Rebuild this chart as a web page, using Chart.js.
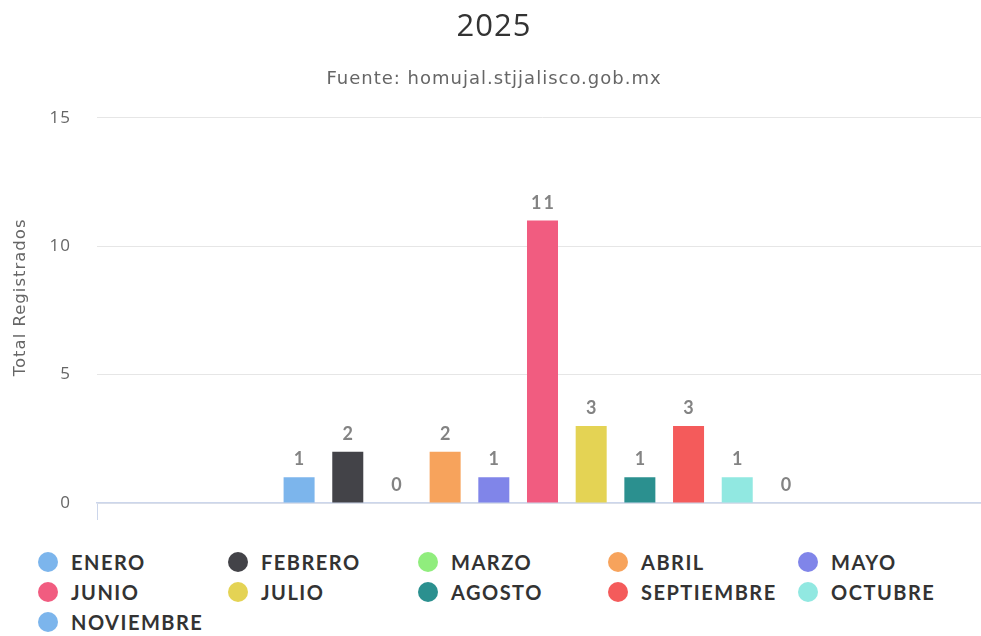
<!DOCTYPE html>
<html>
<head>
<meta charset="utf-8">
<script src="https://cdn.jsdelivr.net/npm/chart.js@4.4.1/dist/chart.umd.min.js"></script>
<style>
  html, body { margin: 0; padding: 0; background: #fff; overflow: hidden; }
  #wrap { position: relative; width: 981px; height: 636px; overflow: hidden; }
  #box { position: absolute; left: 0; top: 0; width: 988px; height: 545px; }
  #leyenda {
    position: absolute; left: 38px; top: 550px;
    display: grid; grid-template-columns: repeat(5, 190px); row-gap: 6px;
    font-family: Lato, sans-serif; font-weight: bold; font-size: 20px;
    letter-spacing: 1.5px; color: #333;
  }
  .item { display: flex; align-items: center; height: 24px; }
  .punto { width: 20px; height: 20px; border-radius: 50%; margin-right: 13px; flex: none; }
</style>
</head>
<body>
<div id="wrap">
  <div id="box"><canvas id="grafica"></canvas></div>
  <div id="leyenda"></div>
</div>
<script>
// datos
const meses = ['ENERO', 'FEBRERO', 'MARZO', 'ABRIL', 'MAYO', 'JUNIO', 'JULIO', 'AGOSTO', 'SEPTIEMBRE', 'OCTUBRE', 'NOVIEMBRE'];
const registros = [1, 2, 0, 2, 1, 11, 3, 1, 3, 1, 0];
const colores = ['#7cb5ec', '#434348', '#90ed7d', '#f7a35c', '#8085e9', '#f15c80', '#e4d354', '#2b908f', '#f45b5b', '#91e8e1', '#7cb5ec'];
const ticksY = [0, 5, 10, 15];
const tituloY = 'Total Registrados';

const datasets = meses.map((mes, i) => ({
    label: mes,
    data: [registros[i]],
    backgroundColor: colores[i],
    borderWidth: 0
}));

// espaciado de letras para los textos del canvas
const espaciado = {
    id: 'espaciado',
    beforeDraw(chart) {
        if ('letterSpacing' in chart.ctx) chart.ctx.letterSpacing = '1px';
    },
    afterDraw(chart) {
        if ('letterSpacing' in chart.ctx) chart.ctx.letterSpacing = '0px';
    }
};

// titulo del eje y, un poco arriba del centro como en el original
const tituloEje = {
    id: 'tituloEje',
    afterDraw(chart) {
        const ctx = chart.ctx;
        const area = chart.chartArea;
        ctx.save();
        ctx.translate(21, (area.top + area.bottom) / 2 - 13);
        ctx.rotate(-Math.PI / 2);
        ctx.font = '16.5px "DejaVu Sans", sans-serif';
        ctx.fillStyle = '#666';
        ctx.textAlign = 'center';
        ctx.textBaseline = 'middle';
        if ('letterSpacing' in ctx) ctx.letterSpacing = '1px';
        ctx.fillText(tituloY, 0, 0);
        ctx.restore();
    }
};

// etiquetas con el valor encima de cada barra
const etiquetas = {
    id: 'etiquetas',
    afterDatasetsDraw(chart) {
        const ctx = chart.ctx;
        ctx.save();
        ctx.font = 'bold 18px Lato, sans-serif';
        ctx.fillStyle = '#838383';
        ctx.textAlign = 'center';
        ctx.textBaseline = 'alphabetic';
        if ('letterSpacing' in ctx) ctx.letterSpacing = '2px';
        chart.data.datasets.forEach((ds, i) => {
            const bar = chart.getDatasetMeta(i).data[0];
            ctx.fillText(String(ds.data[0]), bar.x + 1, bar.y - 12);
        });
        ctx.restore();
    }
};

const ctx = document.getElementById('grafica');
new Chart(ctx.getContext('2d'), {
    type: 'bar',
    data: { labels: ['2025'], datasets: datasets },
    plugins: [espaciado, etiquetas, tituloEje],
    options: {
        responsive: true,
        maintainAspectRatio: false,
        animation: false,
        categoryPercentage: 0.601,
        barPercentage: 0.637,
        layout: { padding: { left: 0, right: 0, top: 0, bottom: 25 } },
        scales: {
            x: {
                ticks: { display: false },
                grid: { drawOnChartArea: false, drawTicks: true, tickLength: 17, color: '#ccd6eb', offset: true },
                border: { color: '#ccd6eb', width: 1.5 }
            },
            y: {
                min: 0,
                max: 15,
                afterBuildTicks: (axis) => { axis.ticks = ticksY.map(v => ({ value: v })); },
                afterFit: (axis) => { axis.width = 97; },
                ticks: { color: '#666', padding: 26, font: { family: '"Open Sans", sans-serif', size: 17 } },
                grid: { color: '#e6e6e6', drawTicks: false },
                border: { display: false },
                title: { display: false }
            }
        },
        plugins: {
            legend: { display: false },
            tooltip: { enabled: false },
            title: {
                display: true,
                text: '2025',
                color: '#333',
                font: { family: '"Open Sans", sans-serif', size: 31, weight: 'normal' },
                padding: { top: 9, bottom: 0 }
            },
            subtitle: {
                display: true,
                text: 'Fuente: homujal.stjjalisco.gob.mx',
                color: '#666',
                font: { family: '"DejaVu Sans", sans-serif', size: 18 },
                padding: { top: 22, bottom: 28 }
            }
        }
    }
});

// leyenda en html
const leyenda = document.getElementById('leyenda');
meses.forEach((mes, i) => {
    const item = document.createElement('div');
    item.className = 'item';
    item.innerHTML = '<span class="punto" style="background:' + colores[i] + '"></span><span>' + mes + '</span>';
    leyenda.appendChild(item);
});
</script>
</body>
</html>
